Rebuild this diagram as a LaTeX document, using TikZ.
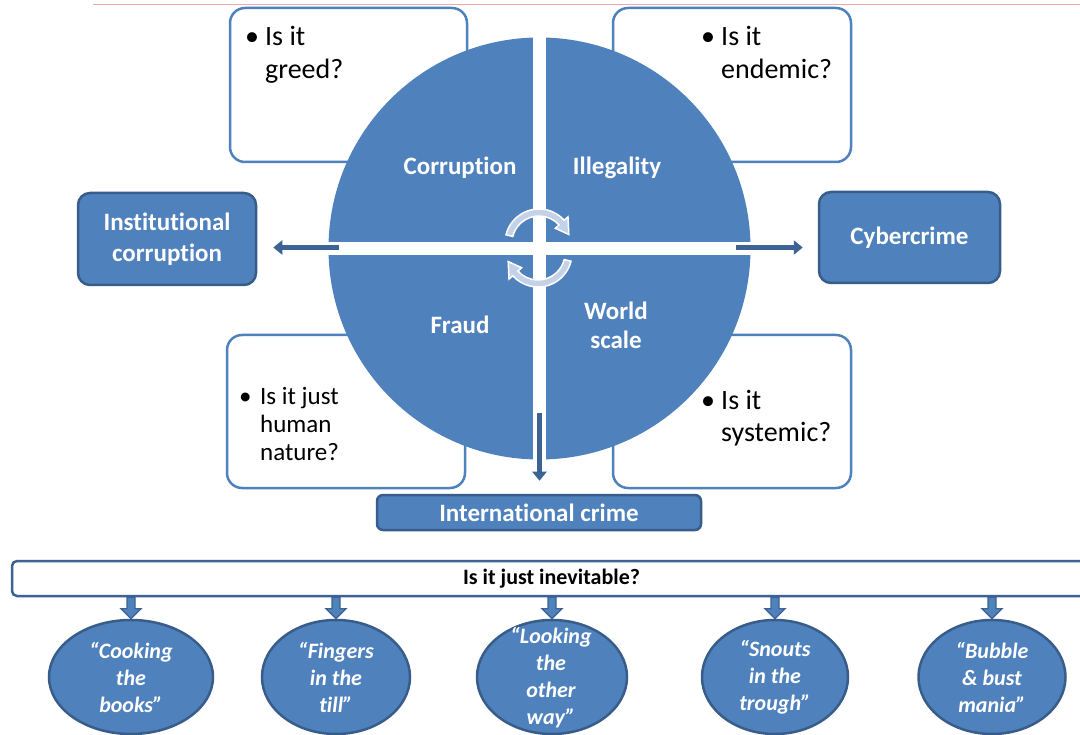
\documentclass[tikz,border=0pt]{standalone}
\usepackage{fontspec}
\setmainfont{Carlito}[Ligatures={NoCommon}]
\usetikzlibrary{shapes.geometric,arrows.meta,calc}
\definecolor{mblue}{HTML}{4F81BD}
\definecolor{dblue}{HTML}{385D8A}
\definecolor{ablue}{HTML}{3C6393}
\definecolor{pinkl}{HTML}{F4A9A9}
\definecolor{cycf}{HTML}{C3D2E8}
\begin{document}
\begin{tikzpicture}[x=1pt,y=1pt,
  qbox/.style={draw=mblue, line width=2.5pt, rounded corners=15pt, fill=white, inner sep=0pt},
  bbox/.style={draw=dblue, line width=2.5pt, rounded corners=12pt, fill=mblue, text=white,
     font=\bfseries\fontsize{25}{31}\selectfont, align=center, inner sep=0pt},
  qlabel/.style={text=white, font=\bfseries\fontsize{25}{29}\selectfont, align=center, inner sep=0pt},
  qtext/.style={anchor=base west, inner sep=0pt, font=\fontsize{28}{33}\selectfont},
  ell/.style={ellipse, draw=dblue, line width=2.5pt, fill=mblue, minimum height=114pt, inner sep=0pt},
  elltext/.style={text=white, font=\bfseries\itshape\fontsize{22}{27}\selectfont, align=center, inner sep=0pt},
  thinarr/.style={draw=ablue, line width=4.5pt, -{Triangle[width=14pt,length=9pt]}},
  cyc/.style={fill=cycf, draw=white, line width=1.5pt},
  blockarr/.style={fill=mblue, draw=ablue, line width=1.3pt,
     to path={let \p1=(\tikztostart), \p2=(\tikztotarget) in
       (\x1-4pt,\y1) -- (\x1-4pt,\y2+10pt) -- (\x1-10pt,\y2+10pt) -- (\x1,\y2)
       -- (\x1+10pt,\y2+10pt) -- (\x1+4pt,\y2+10pt) -- (\x1+4pt,\y1) -- cycle}}
]
\clip (0,0) rectangle (1080,-735);
\fill[white] (0,0) rectangle (1080,-735);
% top thin line
\coordinate (pl1) at (93,-4.5);
\coordinate (pl2) at (1080,-4.5);
\draw[pinkl, line width=1pt] (pl1) -- (pl2);

% white question boxes
\node[qbox, minimum width=237pt, minimum height=154pt] (b1) at (348.5,-85) {};
\node[qbox, minimum width=238pt, minimum height=154pt] (b2) at (732,-85) {};
\node[qbox, minimum width=238pt, minimum height=153pt] (b3) at (346,-411.5) {};
\node[qbox, minimum width=238pt, minimum height=153pt] (b4) at (732,-411.5) {};

% circle
\node[circle, fill=mblue, minimum size=422pt, inner sep=0pt] (circ) at (539.5,-248.5) {};
\begin{scope}
  \clip (circ.center) circle[radius=213];
  \fill[white] (533,-20) rectangle (546,-480);
  \fill[white] (310,-242) rectangle (770,-255);
\end{scope}

% question texts
\node[qtext] (t1) at (245,-46) {\begin{tabular}[t]{@{}l@{}l@{}}\makebox[20pt][l]{•}&Is it\\&greed?\end{tabular}};
\node[qtext] (t2) at (701,-46) {\begin{tabular}[t]{@{}l@{}l@{}}\makebox[20pt][l]{•}&Is it\\&endemic?\end{tabular}};
\node[qtext, font=\fontsize{25}{28}\selectfont] (t3) at (239,-405) {\begin{tabular}[t]{@{}l@{}l@{}}\makebox[21pt][l]{•}&Is it just\\&human\\&nature?\end{tabular}};
\node[qtext, font=\fontsize{28}{32}\selectfont] (t4) at (701,-410) {\begin{tabular}[t]{@{}l@{}l@{}}\makebox[20pt][l]{•}&Is it\\&systemic?\end{tabular}};

% quadrant labels
\node[qlabel] (q1) at (460,-168) {Corruption};
\node[qlabel] (q2) at (617,-168) {Illegality};
\node[qlabel] (q3) at (460,-325) {Fraud};
\node[qlabel] (q4) at (616,-325) {World\\scale};

% cycle arrows
\begin{scope}[shift={(539,-243)}]
  \filldraw[cyc] (166:34) arc[start angle=166,end angle=42,radius=34] -- (42:39)
     -- (16:31) -- (42:22) -- (42:27) arc[start angle=42,end angle=166,radius=27] -- cycle;
\end{scope}
\begin{scope}[shift={(538,-253)}, rotate=180]
  \filldraw[cyc] (166:34) arc[start angle=166,end angle=42,radius=34] -- (42:39)
     -- (16:31) -- (42:22) -- (42:27) arc[start angle=42,end angle=166,radius=27] -- cycle;
\end{scope}

% side boxes
\node[bbox, minimum width=178pt, minimum height=92pt] (inst) at (167,-239) {Institutional\\corruption};
\node[bbox, minimum width=181pt, minimum height=91pt] (cyber) at (909.5,-237.5) {Cybercrime};
\node[bbox, rounded corners=6pt, minimum width=324pt, minimum height=35pt] (intl) at (539,-512.5) {International crime};

% arrows out of the circle
\coordinate (la) at (339,-247.5);
\coordinate (ra) at (736,-247.5);
\coordinate (da) at (539.5,-413);
\draw[thinarr, shorten >=16pt] (la) -- (la -| inst.east);
\draw[thinarr, shorten >=15pt] (ra) -- (ra -| cyber.west);
\draw[thinarr, shorten >=13pt] (da) -- (da |- intl.north);

% bottom bar
\node[draw=ablue, line width=2.5pt, rounded corners=5pt, fill=white, minimum width=1079pt,
      minimum height=35pt, inner sep=0pt, font=\bfseries\fontsize{22}{26}\selectfont] (bar) at (551.5,-578.5) {Is it just inevitable?};

% ellipses
\node[ell, minimum width=164pt] (e1) at (131,-677) {};
\node[ell, minimum width=148pt] (e2) at (336,-677) {};
\node[ell, minimum width=150pt] (e3) at (552,-677) {};
\node[ell, minimum width=146pt] (e4) at (775,-677) {};
\node[ell, minimum width=147pt] (e5) at (992,-677) {};
\node[elltext] (e1t) at (131,-677) {“Cooking\\the\\books”};
\node[elltext] (e2t) at (336,-677) {“Fingers\\in the\\till”};
\node[elltext] (e3t) at (551,-678) {“Looking\\the\\other\\way”};
\node[elltext] (e4t) at (775,-677) {“Snouts\\in the\\trough”};
\node[elltext] (e5t) at (992,-677) {“Bubble\\\& bust\\mania”};

% block arrows
\foreach \e in {e1,e2,e3,e4,e5}{
  \coordinate (s\e) at (\e.north |- bar.south);
  \draw[blockarr] (s\e) to (\e.north);
}
\end{tikzpicture}
\end{document}
